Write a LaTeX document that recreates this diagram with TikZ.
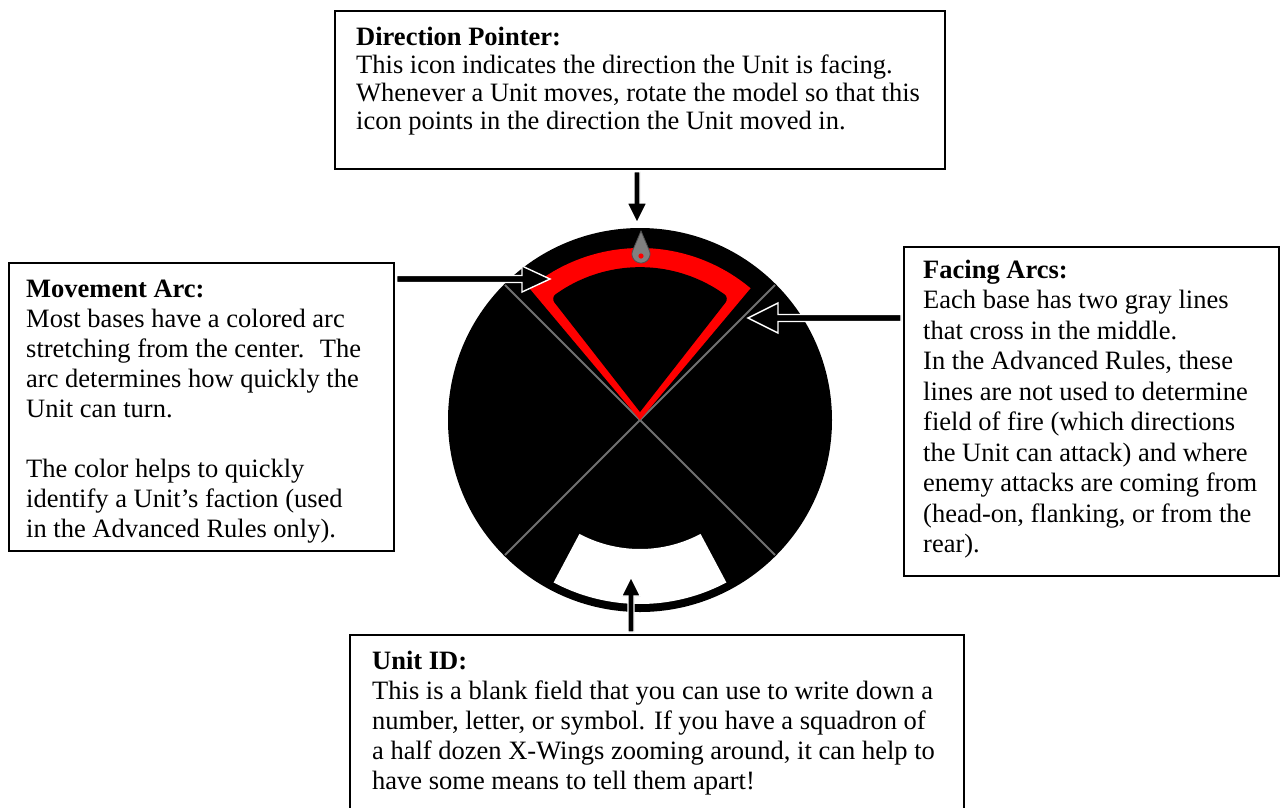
\documentclass[tikz,border=0pt]{standalone}
\usepackage{fontspec}
\setmainfont{Liberation Serif}
\usetikzlibrary{calc}
\definecolor{glinec}{RGB}{112,112,112}
\definecolor{ptrfill}{RGB}{128,128,128}
\definecolor{ptrdraw}{RGB}{80,80,80}
\definecolor{arcred}{RGB}{255,0,0}
\begin{document}
\begin{tikzpicture}[x=1pt,y=-1pt,
  box/.style={draw=black,line width=1.6pt,fill=white,inner sep=0pt,anchor=north west},
  txt/.style={anchor=north west,inner sep=0pt,align=left,font=\fontsize{26.5}{#1}\selectfont},
  txt/.default=30,
  barrow/.style={fill=black,draw=white,line width=1.4pt,line join=miter}]
\useasboundingbox (0,0) rectangle (1286,807);
\clip (0,0) rectangle (1286,807);

% ---------- boxes ----------
\node[box,minimum width=610pt,minimum height=158pt] (topbox) at (334,10) {};
\node[box,minimum width=385pt,minimum height=288pt] (lbox) at (8,262) {};
\node[box,minimum width=375pt,minimum height=329pt] (fbox) at (903,246) {};
\node[box,minimum width=614pt,minimum height=200pt] (ubox) at (349,634) {};

\node[txt=28] (ttop) at (356,25.4) {\strut\textbf{Direction Pointer:}\\
This icon indicates the direction the Unit is facing.\\
Whenever a Unit moves, rotate the model so that this\\
icon points in the direction the Unit moved in.};

\node[txt=30] (tl) at (26,276) {\strut\textbf{Movement Arc:}\\
Most bases have a colored arc\\
stretching from the center.~ The\\
arc determines how quickly the\\
Unit can turn.\\[30pt]
The color helps to quickly\\
identify a Unit’s faction (used\\
in the Advanced Rules only).};

\node[txt=30.5] (tf) at (923,256.6) {\strut\textbf{Facing Arcs:}\\
Each base has two gray lines\\
that cross in the middle.\\
In the Advanced Rules, these\\
lines are not used to determine\\
field of fire (which directions\\
the Unit can attack) and where\\
enemy attacks are coming from\\
(head-on, flanking, or from the\\
rear).};

\node[txt=30] (tu) at (372,648) {\strut\textbf{Unit ID:}\\
This is a blank field that you can use to write down a\\
number, letter, or symbol. If you have a squadron of\\
a half dozen X-Wings zooming around, it can help to\\
have some means to tell them apart!};

% ---------- base disc ----------
\coordinate (C) at (640,420);
\fill[black] (C) circle[radius=192pt];
% unit ID field
\fill[white] plot[domain=62:118,samples=40] ({640+184*cos(\x)},{420+184*sin(\x)})
  -- plot[domain=118:62,samples=40] ({640+129*cos(\x)},{420+129*sin(\x)}) -- cycle;
% facing lines
\draw[glinec,line width=1.8pt] ($(C)+(45:191)$) -- ($(C)+(225:191)$);
\draw[glinec,line width=1.8pt] ($(C)+(135:191)$) -- ($(C)+(315:191)$);
% movement arc
\fill[arcred] (C) -- plot[domain=230:310,samples=50] ({640+172*cos(\x)},{420+172*sin(\x)}) -- cycle;
\fill[black] (640,412) [rounded corners=6pt]
  -- plot[domain=-52:-128,samples=16] ({640+145*cos(\x)},{412+145*sin(\x)})
  -- (559.6,309.1) [sharp corners] -- cycle;
% direction pointer
\filldraw[fill=ptrfill,draw=ptrdraw,line width=0.8pt] (641,231)
  -- plot[domain=-23:203,samples=30] ({641+9*cos(\x)},{254+9*sin(\x)}) -- cycle;
\fill[arcred] (641,256) circle[radius=2.6pt];

% ---------- arrows ----------
\coordinate (tipT) at (637,223);
\coordinate (tipL) at (550,279);
\coordinate (tipR) at (748,318);
\coordinate (tipB) at (631,577);
\draw[barrow] let \p1=(topbox.south -| tipT), \p2=(tipT) in
  (\x1-3pt,\y1-2pt) -- (\x1-3pt,\y2+20pt) -- (\x1-10pt,\y2+20pt) -- (\p2)
  -- (\x1+10pt,\y2+20pt) -- (\x1+3pt,\y2+20pt) -- (\x1+3pt,\y1-2pt) -- cycle;
\draw[barrow] let \p1=(lbox.east |- tipL), \p2=(tipL) in
  (\x1+2pt,\y1+3.5pt) -- (\x2-28pt,\y1+3.5pt) -- (\x2-28pt,\y1+13pt) -- (\p2)
  -- (\x2-28pt,\y1-13pt) -- (\x2-28pt,\y1-3.5pt) -- (\x1+2pt,\y1-3.5pt) -- cycle;
\draw[barrow] let \p1=(fbox.west |- tipR), \p2=(tipR) in
  (\x1-2pt,\y1+3.5pt) -- (\x2+30pt,\y1+3.5pt) -- (\x2+30pt,\y1+15pt) -- (\p2)
  -- (\x2+30pt,\y1-15pt) -- (\x2+30pt,\y1-3.5pt) -- (\x1-2pt,\y1-3.5pt) -- cycle;
\draw[barrow] let \p1=(ubox.north -| tipB), \p2=(tipB) in
  (\x1-3pt,\y1+2pt) -- (\x1-3pt,\y2-19pt) -- (\x1-9.5pt,\y2-19pt) -- (\p2)
  -- (\x1+9.5pt,\y2-19pt) -- (\x1+3pt,\y2-19pt) -- (\x1+3pt,\y1+2pt) -- cycle;
\end{tikzpicture}
\end{document}
